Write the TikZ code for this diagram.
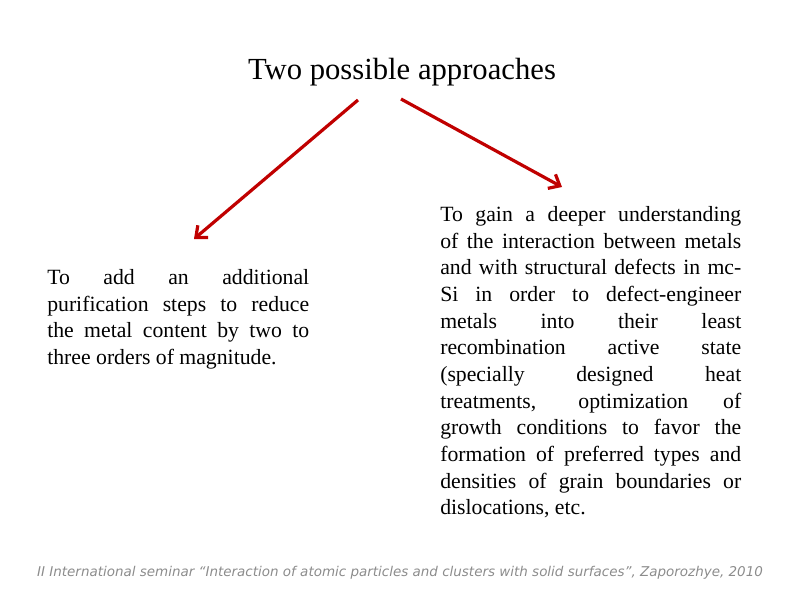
\documentclass[tikz,border=0pt]{standalone}
\usepackage{fontspec}
\setmainfont{Liberation Serif}
\newfontfamily\footfont{DejaVu Sans}
\usetikzlibrary{arrows.meta}
\definecolor{arrowred}{RGB}{192,0,0}
\definecolor{footgray}{RGB}{140,140,140}
\tikzset{
  conn/.style={arrowred, line width=2.4pt, -{Straight Barb[length=7pt,width=12pt]}},
  bodytext/.style={inner sep=0pt, anchor=north west, align=justify, font=\fontsize{16.3}{20}\selectfont},
}
\begin{document}
\begin{tikzpicture}[x=0.75pt,y=-0.75pt]
\useasboundingbox (0,0) rectangle (800,600);
\node[font=\fontsize{23}{27}\selectfont] (title) at (402,72) {Two possible approaches};
\coordinate (ls) at (358,100);
\coordinate (le) at (194,239);
\coordinate (rs) at (401,99);
\coordinate (re) at (562,187);
\draw[conn] (ls) -- (le);
\draw[conn] (rs) -- (re);
\node[bodytext, text width=196.5pt] (left) at (47,269) {\hyphenpenalty=10000
To add an additional\linebreak purification steps to reduce\linebreak the metal content by two to\linebreak three orders of magnitude.};
\node[bodytext, text width=225.75pt] (right) at (440,206) {\hyphenpenalty=10000
To gain a deeper understanding\linebreak of the interaction between metals\linebreak and with structural defects in mc-\linebreak Si in order to defect-engineer\linebreak metals into their least\linebreak recombination active state\linebreak (specially designed heat\linebreak treatments, optimization of\linebreak growth conditions to favor the\linebreak formation of preferred types and\linebreak densities of grain boundaries or\linebreak dislocations, etc.};
\node[font=\footfont\itshape\fontsize{10.1}{12}\selectfont, text=footgray] (foot) at (400,573) {II International seminar “Interaction of atomic particles and clusters with solid surfaces”, Zaporozhye, 2010};
\end{tikzpicture}
\end{document}
